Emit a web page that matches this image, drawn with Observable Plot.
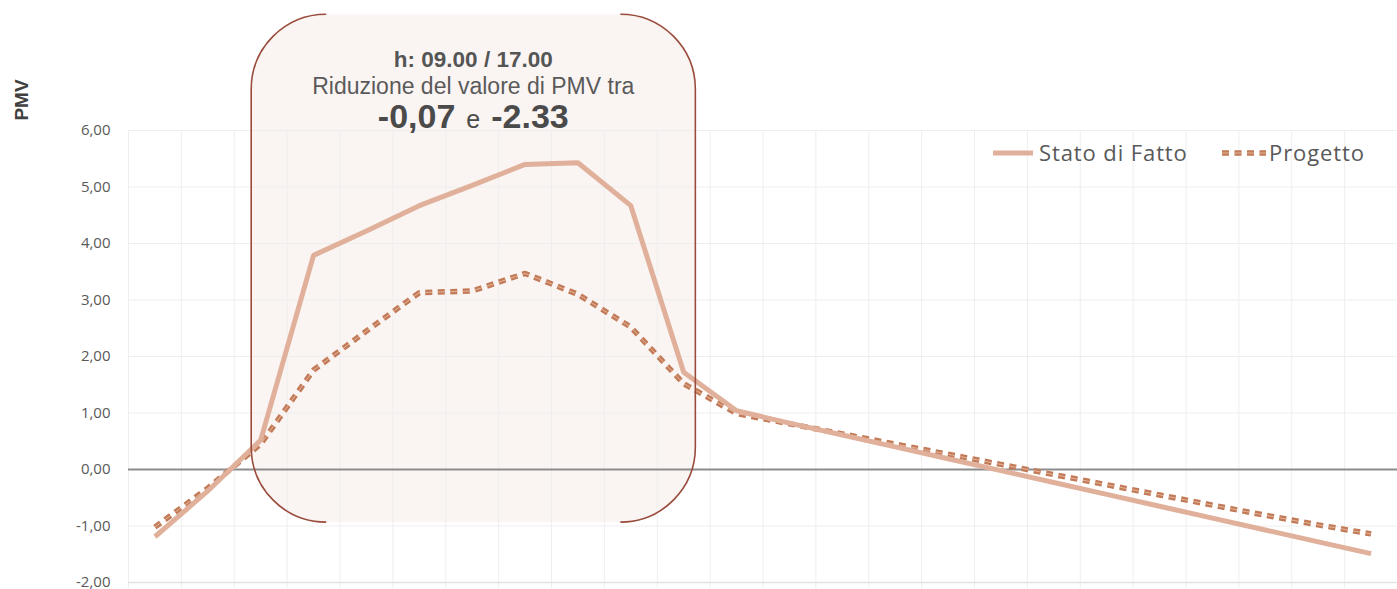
<!DOCTYPE html>
<html>
<head>
<meta charset="utf-8">
<script src="https://cdn.jsdelivr.net/npm/d3@7"></script>
<script src="https://cdn.jsdelivr.net/npm/@observablehq/plot@0.6"></script>
<style>
  html, body { margin: 0; padding: 0; background: #fff; }
  #chart { width: 1397px; height: 589px; overflow: hidden; }
</style>
</head>
<body>
<div id="chart"></div>
<script>
// ---- data ----
const hours = ["07.00","08.00","09.00","10.00","11.00","12.00","13.00","14.00","15.00","16.00","17.00","18.00",
               "19.00","20.00","21.00","22.00","23.00","24.00","01.00","02.00","03.00","04.00","05.00","06.00"];
const statoDiFatto = [-1.19, -0.38, 0.52, 3.79, 4.22, 4.67, 5.03, 5.40, 5.43, 4.67, 1.72, 1.04,
                      0.82, 0.61, 0.40, 0.19, -0.02, -0.23, -0.44, -0.65, -0.86, -1.07, -1.28, -1.49];
const progetto = [-1.02, -0.33, 0.45, 1.76, 2.45, 3.13, 3.16, 3.47, 3.10, 2.52, 1.52, 0.99,
                  0.81, 0.63, 0.45, 0.27, 0.09, -0.09, -0.27, -0.45, -0.63, -0.81, -0.98, -1.14];
const yTicks = [-2, -1, 0, 1, 2, 3, 4, 5, 6];
const seriesNames = ["Stato di Fatto", "Progetto"];
const noteLines = ["h: 09.00 / 17.00", "Riduzione del valore di PMV tra"];
const noteValues = ["-0,07", "e", "-2.33"];
// annotation box extent in data units (x index, PMV)
const noteBoxX = [1.83, 10.23];
const noteBoxY = [-0.94, 8.05];

const rowsA = hours.map((h, i) => ({i, h, v: statoDiFatto[i]}));
const rowsB = hours.map((h, i) => ({i, h, v: progetto[i]}));
const gridXs = d3.range(-0.5, hours.length, 1);

const cSolid = "#e0b09b";
const cDash = "#c27a57";
const cDashLight = "#e3b49c";
const cBox = "#9a4b3c";
const txt = "#595959";
const dash = "7,5.5";

const chart = Plot.plot({
  width: 1397,
  height: 589,
  marginLeft: 128,
  marginRight: 0,
  marginTop: 130,
  marginBottom: 7,
  style: {fontFamily: "'Open Sans', sans-serif", background: "transparent"},
  x: {domain: [-0.5, hours.length - 0.5], axis: null},
  y: {domain: [-2, 6], ticks: yTicks},
  marks: [
    Plot.ruleY(yTicks, {stroke: "#eeeeee", strokeWidth: 1}),
    Plot.ruleX(gridXs, {y1: 6, y2: -2.12, stroke: "#eeeeee", strokeWidth: 1}),
    Plot.ruleY([-2], {stroke: "#e2e2e2", strokeWidth: 1.5}),
    Plot.ruleY([0], {stroke: "#8c8c8c", strokeWidth: 2}),
    Plot.axisY({ticks: yTicks, tickSize: 0, tickPadding: 18, label: null,
      tickFormat: d => d.toFixed(2).replace(".", ","),
      fontSize: 15, fill: txt}),
    Plot.line(rowsB, {x: "i", y: "v", stroke: cDash, strokeWidth: 5.5, strokeDasharray: dash, strokeLinejoin: "miter", strokeLinecap: "butt"}),
    Plot.line(rowsB, {x: "i", y: "v", stroke: cDashLight, strokeWidth: 1, strokeDasharray: dash, strokeLinejoin: "miter", strokeLinecap: "butt"}),
    Plot.line(rowsA, {x: "i", y: "v", stroke: cSolid, strokeWidth: 5, strokeLinejoin: "miter", strokeLinecap: "butt"})
  ]
});
document.getElementById("chart").appendChild(chart);

// ---- annotation and legend ----
const sx = chart.scale("x"), sy = chart.scale("y");
const X = v => sx.apply(v), Y = v => sy.apply(v);
const svg = d3.select(chart);
const x1 = X(noteBoxX[0]), x2 = X(noteBoxX[1]);
const yT = Y(noteBoxY[1]), yB = Y(noteBoxY[0]);
const rx = 75, ry = 75;

// box fill (underneath everything)
svg.insert("path", ":first-child")
  .attr("d", `M${x1 + rx},${yT} L${x2 - rx},${yT} A${rx},${ry} 0 0 1 ${x2},${yT + ry} L${x2},${yB - ry} A${rx},${ry} 0 0 1 ${x2 - rx},${yB} L${x1 + rx},${yB} A${rx},${ry} 0 0 1 ${x1},${yB - ry} L${x1},${yT + ry} A${rx},${ry} 0 0 1 ${x1 + rx},${yT} Z`)
  .attr("fill", "#faf5f3");
svg.insert("rect", ":first-child").attr("width", 1397).attr("height", 589).attr("fill", "#fff");

// bracket outlines
const gb = svg.append("g").attr("fill", "none").attr("stroke", cBox).attr("stroke-width", 1.6);
gb.append("path").attr("d", `M${x1 + rx},${yT} A${rx},${ry} 0 0 0 ${x1},${yT + ry} L${x1},${yB - ry} A${rx},${ry} 0 0 0 ${x1 + rx},${yB}`);
gb.append("path").attr("d", `M${x2 - rx},${yT} A${rx},${ry} 0 0 1 ${x2},${yT + ry} L${x2},${yB - ry} A${rx},${ry} 0 0 1 ${x2 - rx},${yB}`);

// note text
const cx = (x1 + x2) / 2;
const gt = svg.append("g").style("text-anchor", "middle").style("font-family", "'Liberation Sans', Arial, sans-serif");
gt.append("text").attr("x", cx).attr("y", yT + 53).style("font-size", "22.5px").style("font-weight", "bold").attr("fill", "#555").text(noteLines[0]);
gt.append("text").attr("x", cx).attr("y", yT + 80).style("font-size", "23px").attr("fill", "#5a5a5a").text(noteLines[1]);
const t3 = gt.append("text").attr("x", cx).attr("y", yT + 114).attr("fill", "#4a4a4a");
t3.append("tspan").style("font-size", "34px").style("font-weight", "bold").text(noteValues[0]);
t3.append("tspan").style("font-size", "25px").attr("dx", 11).text(noteValues[1]);
t3.append("tspan").style("font-size", "34px").style("font-weight", "bold").attr("dx", 11).text(noteValues[2]);

// PMV label
svg.append("text").attr("transform", "translate(28,100) rotate(-90)").style("text-anchor", "middle")
  .attr("font-size", 19).style("font-family", "'Liberation Sans', Arial, sans-serif").style("font-weight", "bold").style("font-size", "19px")
  .attr("fill", "#404040").text("PMV");

// legend
const gl = svg.append("g").style("font-family", "'Open Sans', sans-serif").style("font-size", "22px")
  .style("text-anchor", "start").attr("fill", txt);
const ly = 153;
gl.append("line").attr("x1", 993).attr("x2", 1033).attr("y1", ly).attr("y2", ly).attr("stroke", cSolid).attr("stroke-width", 5);
gl.append("text").attr("x", 1039).attr("y", ly + 8).style("letter-spacing", "0.9px").text(seriesNames[0]);
gl.append("line").attr("x1", 1222).attr("x2", 1266).attr("y1", ly).attr("y2", ly).attr("stroke", cDash).attr("stroke-width", 5.5).attr("stroke-dasharray", dash);
gl.append("line").attr("x1", 1222).attr("x2", 1266).attr("y1", ly).attr("y2", ly).attr("stroke", cDashLight).attr("stroke-width", 1).attr("stroke-dasharray", dash);
gl.append("text").attr("x", 1269).attr("y", ly + 8).style("letter-spacing", "0.9px").text(seriesNames[1]);
</script>
</body>
</html>
